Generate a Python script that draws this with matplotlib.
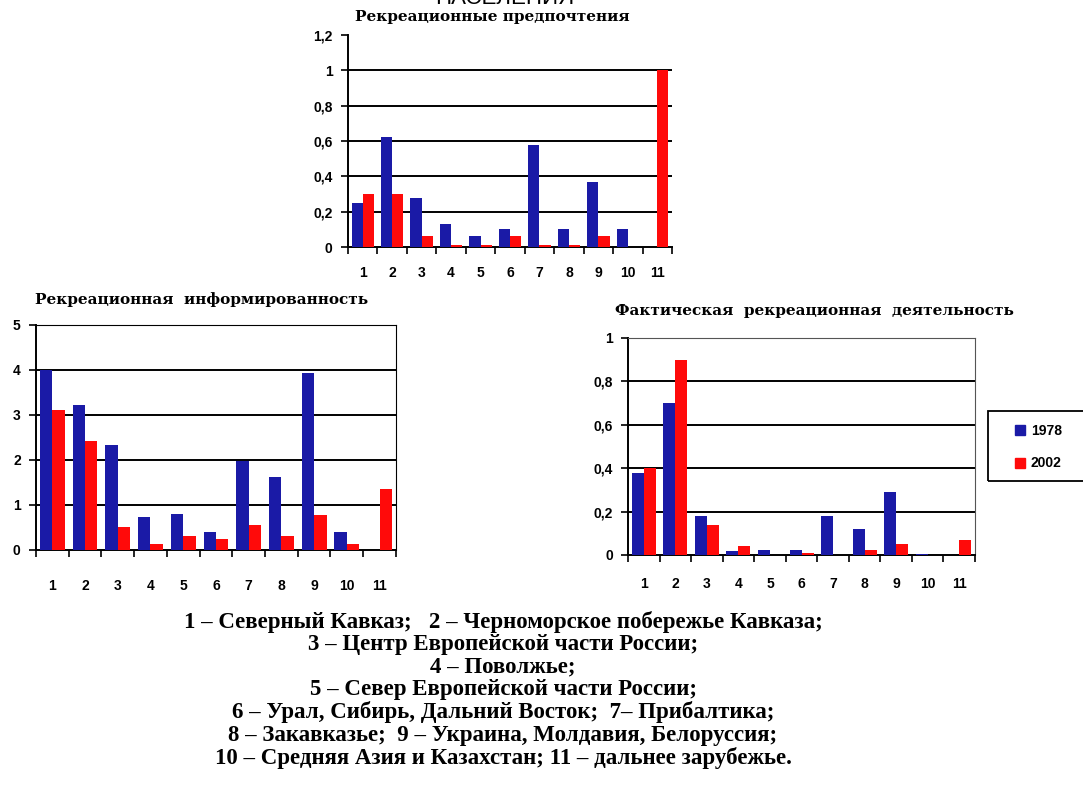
import numpy as np
import matplotlib.pyplot as plt
from matplotlib.ticker import FixedLocator, FuncFormatter
from matplotlib.patches import Rectangle
from matplotlib.lines import Line2D

regions = [str(i) for i in range(1, 12)]

# Рекреационные предпочтения
pref_1978 = [0.25, 0.62, 0.28, 0.13, 0.06, 0.10, 0.58, 0.10, 0.37, 0.10, 0.0]
pref_2002 = [0.30, 0.30, 0.06, 0.01, 0.01, 0.06, 0.01, 0.01, 0.06, 0.0, 1.0]

# Рекреационная информированность
info_1978 = [4.0, 3.22, 2.33, 0.73, 0.80, 0.39, 1.98, 1.62, 3.93, 0.39, 0.0]
info_2002 = [3.11, 2.43, 0.52, 0.13, 0.30, 0.24, 0.56, 0.30, 0.77, 0.13, 1.35]

# Фактическая рекреационная деятельность
fact_1978 = [0.38, 0.70, 0.18, 0.02, 0.025, 0.025, 0.18, 0.12, 0.29, 0.005, 0.0]
fact_2002 = [0.40, 0.90, 0.14, 0.04, 0.0, 0.01, 0.0, 0.025, 0.05, 0.0, 0.07]

legend_labels = ["1978", "2002"]
notes = [
    "1 – Северный Кавказ;   2 – Черноморское побережье Кавказа;",
    "3 – Центр Европейской части России;",
    "4 – Поволжье;",
    "5 – Север Европейской части России;",
    "6 – Урал, Сибирь, Дальний Восток;  7– Прибалтика;",
    "8 – Закавказье;  9 – Украина, Молдавия, Белоруссия;",
    "10 – Средняя Азия и Казахстан; 11 – дальнее зарубежье.",
]

BLUE = "#1a1aa6"
RED = "#ff0a0a"
tick_font = dict(family="Liberation Sans", weight="bold", size=10)


def comma(v, pos):
    s = f"{v:.1f}".rstrip("0").rstrip(".")
    return s.replace(".", ",")


def bar_chart(ax, a, b, ymax, ystep, frame):
    x = np.arange(len(regions))
    w = 0.38
    ax.bar(x - w / 2, a, w, color=BLUE, zorder=3, label=legend_labels[0])
    ax.bar(x + w / 2, b, w, color=RED, zorder=3, label=legend_labels[1])
    ax.set_xlim(-0.5, len(regions) - 0.5)
    ax.set_ylim(0, ymax)
    ticks = np.arange(0, ymax + 1e-9, ystep)
    ax.yaxis.set_major_locator(FixedLocator(ticks))
    ax.yaxis.set_major_formatter(FuncFormatter(comma))
    for t in ticks[1:]:
        if t < ymax - 1e-9 or frame:
            ax.axhline(t, color="black", lw=1.4, zorder=1)
    ax.xaxis.set_major_locator(FixedLocator(np.arange(-0.5, len(regions))))
    ax.xaxis.set_major_formatter(FuncFormatter(lambda v, p: ""))
    ax.xaxis.set_minor_locator(FixedLocator(x))
    ax.set_xticklabels(regions, minor=True)
    ax.tick_params(axis="x", which="major", length=5, width=1.2, direction="out")
    ax.tick_params(axis="x", which="minor", length=0, pad=14)
    ax.tick_params(axis="y", length=5, width=1.2, direction="out", pad=6)
    for lbl in ax.get_xticklabels(minor=True) + ax.get_yticklabels():
        lbl.set(**tick_font)
    ax.spines["left"].set_linewidth(1.4)
    ax.spines["bottom"].set_linewidth(1.4)
    if frame:
        ax.spines["top"].set_color("#555555")
        ax.spines["right"].set_color("#555555")
    else:
        ax.spines["top"].set_visible(False)
        ax.spines["right"].set_visible(False)


fig = plt.figure(figsize=(10.83, 7.95), dpi=100)

ax_top = fig.add_axes([0.3213, 0.6893, 0.2992, 0.2667])
bar_chart(ax_top, pref_1978, pref_2002, 1.2, 0.2, False)
ax_top.tick_params(axis="x", which="minor", pad=14)

ax_left = fig.add_axes([0.0332, 0.3082, 0.3324, 0.2830])
bar_chart(ax_left, info_1978, info_2002, 5, 1, True)
ax_left.spines["top"].set_color("black")
ax_left.spines["right"].set_color("black")
ax_left.tick_params(axis="x", which="minor", pad=21)

ax_right = fig.add_axes([0.5799, 0.3019, 0.3204, 0.2730])
bar_chart(ax_right, fact_1978, fact_2002, 1.0, 0.2, True)
ax_right.tick_params(axis="x", which="minor", pad=16)

title_font = dict(family="DejaVu Serif", weight="bold", size=11)
fig.text(492 / 1083, 1 - 17 / 795, "Рекреационные предпочтения", ha="center", va="center", **title_font)
fig.text(0.032, 1 - 300 / 795, "Рекреационная  информированность", ha="left", va="center", **title_font)
fig.text(0.568, 1 - 311 / 795, "Фактическая  рекреационная  деятельность", ha="left", va="center", **title_font)

# heading at the very top, cut by the edge as in the source slide
fig.text(505 / 1083, 1 - 4 / 795, "НАСЕЛЕНИЯ", ha="center", va="baseline",
         family="Liberation Sans", size=16)

# legend box running off the right edge
fig.patches.append(Rectangle((988 / 1083, 1 - 481 / 795), 110 / 1083, 70 / 795,
                             transform=fig.transFigure, fill=False,
                             edgecolor="black", lw=1.3, clip_on=False))
handles = [Line2D([], [], ls="none", marker="s", markersize=7, color=c) for c in (BLUE, RED)]
fig.legend(handles, legend_labels, loc="upper left",
           bbox_to_anchor=(1003 / 1083, 1 - 414 / 795), frameon=False,
           handlelength=1.0, handletextpad=0.3, borderpad=0.2,
           labelspacing=1.35, prop=dict(family="Liberation Sans", weight="bold", size=10))

y0 = 622
for i, line in enumerate(notes):
    fig.text(503 / 1083, 1 - (y0 + i * 22.6) / 795, line, ha="center", va="center",
             family="Liberation Serif", weight="bold", size=16.5)

fig.savefig("out.png", dpi=100, facecolor="white")
